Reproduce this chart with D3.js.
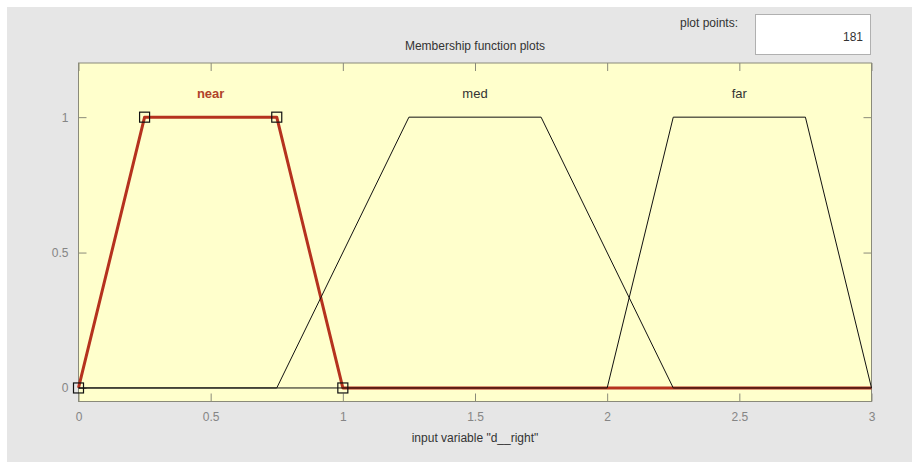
<!DOCTYPE html>
<html>
<head>
<meta charset="utf-8">
<script src="https://cdn.jsdelivr.net/npm/d3@7"></script>
<style>
  body { margin: 0; background: #fff; }
  text { font-family: "Liberation Sans", Arial, sans-serif; }
</style>
</head>
<body>
<div id="chart-area"></div>
<script>
// membership functions (trapezoid params a, b, c, d)
const mfNames = ["near", "med", "far"];
const mfParams = [
  [0, 0.25, 0.75, 1],
  [0.75, 1.25, 1.75, 2.25],
  [2, 2.25, 2.75, 3]
];
const xTicks = [0, 0.5, 1, 1.5, 2, 2.5, 3];
const yTicks = [0, 0.5, 1];
const plotPoints = "181";

const svgWidth = 912;
const svgHeight = 462;
const plot = { left: 78.5, right: 871.5, top: 63, bottom: 401.5 };

const svg = d3.select("#chart-area")
              .append("svg")
              .attr("width", svgWidth)
              .attr("height", svgHeight);

// gray figure background
svg.append("rect")
   .attr("x", 7).attr("y", 7)
   .attr("width", svgWidth - 7).attr("height", svgHeight - 7)
   .attr("fill", "#e6e6e6");

const x = d3.scaleLinear().domain([0, 3]).range([plot.left, plot.right]);
const y = d3.scaleLinear().domain([-0.05, 1.2]).range([plot.bottom, plot.top]);

svg.append("rect")
   .attr("x", plot.left).attr("y", plot.top)
   .attr("width", plot.right - plot.left).attr("height", plot.bottom - plot.top)
   .attr("fill", "#ffffcc");

const tickLen = 8;
const axisColor = "#8a8a7a";
const labelColor = "#858585";

// ticks on all four sides
const g = svg.append("g");
g.append("g")
 .attr("transform", `translate(0, ${plot.bottom})`)
 .call(d3.axisBottom(x).tickValues(xTicks).tickSize(-tickLen).tickPadding(11).tickFormat(d3.format("")))
 .call(a => a.select(".domain").remove());
g.append("g")
 .attr("transform", `translate(0, ${plot.top})`)
 .call(d3.axisTop(x).tickValues(xTicks).tickSize(-tickLen).tickFormat(""))
 .call(a => a.select(".domain").remove());
g.append("g")
 .attr("transform", `translate(${plot.left}, 0)`)
 .call(d3.axisLeft(y).tickValues(yTicks).tickSize(-tickLen).tickPadding(10).tickFormat(d3.format("")))
 .call(a => a.select(".domain").remove());
g.append("g")
 .attr("transform", `translate(${plot.right}, 0)`)
 .call(d3.axisRight(y).tickValues(yTicks).tickSize(-tickLen).tickFormat(""))
 .call(a => a.select(".domain").remove());
g.selectAll(".tick line").attr("stroke", axisColor);
g.selectAll(".tick text")
 .attr("fill", labelColor)
 .attr("font-size", 12)
 .attr("font-family", "\"Liberation Sans\", Arial, sans-serif");

svg.append("rect")
   .attr("x", plot.left).attr("y", plot.top)
   .attr("width", plot.right - plot.left).attr("height", plot.bottom - plot.top)
   .attr("fill", "none")
   .attr("stroke", axisColor);

// trapezoid curves across the whole range
const curve = p => [[0, 0], [p[0], 0], [p[1], 1], [p[2], 1], [p[3], 0], [3, 0]];
const line = d3.line().x(d => x(d[0])).y(d => y(d[1]));

svg.append("path")
   .attr("d", line(curve(mfParams[0])))
   .attr("fill", "none")
   .attr("stroke", "#b5321e")
   .attr("stroke-width", 3)
   .attr("stroke-linejoin", "round");

mfParams.slice(1).forEach(p => {
  svg.append("path")
     .attr("d", line(curve(p)))
     .attr("fill", "none")
     .attr("stroke", "#111")
     .attr("stroke-width", 1);
});

// selected MF vertex handles
const nearPts = [[mfParams[0][0], 0], [mfParams[0][1], 1], [mfParams[0][2], 1], [mfParams[0][3], 0]];
svg.selectAll("rect.handle")
   .data(nearPts)
   .enter()
   .append("rect")
     .attr("class", "handle")
     .attr("x", d => x(d[0]) - 5)
     .attr("y", d => y(d[1]) - 5)
     .attr("width", 10)
     .attr("height", 10)
     .attr("fill", "none")
     .attr("stroke", "#111")
     .attr("stroke-width", 1.2);

// MF names
svg.selectAll("text.mf")
   .data(mfNames)
   .enter()
   .append("text")
     .attr("class", "mf")
     .attr("x", (d, i) => x((mfParams[i][1] + mfParams[i][2]) / 2))
     .attr("y", y(1.07))
     .attr("text-anchor", "middle")
     .attr("font-size", 13)
     .attr("font-weight", (d, i) => i === 0 ? "bold" : "normal")
     .attr("fill", (d, i) => i === 0 ? "#b0432a" : "#333")
     .text(d => d);

svg.append("text")
   .attr("x", (plot.left + plot.right) / 2)
   .attr("y", 50)
   .attr("text-anchor", "middle")
   .attr("font-size", 12)
   .attr("fill", "#333")
   .text("Membership function plots");

svg.append("text")
   .attr("x", (plot.left + plot.right) / 2)
   .attr("y", 442)
   .attr("text-anchor", "middle")
   .attr("font-size", 12)
   .attr("fill", "#333")
   .text("input variable \"d__right\"");

// plot points box
svg.append("text")
   .attr("x", 738)
   .attr("y", 27)
   .attr("text-anchor", "end")
   .attr("font-size", 12)
   .attr("fill", "#333")
   .text("plot points:");
svg.append("rect")
   .attr("x", 755.5).attr("y", 14.5)
   .attr("width", 115).attr("height", 40)
   .attr("fill", "#fff")
   .attr("stroke", "#b0b0b0");
svg.append("text")
   .attr("x", 863)
   .attr("y", 41)
   .attr("text-anchor", "end")
   .attr("font-size", 12)
   .attr("fill", "#333")
   .text(plotPoints);
</script>
</body>
</html>
